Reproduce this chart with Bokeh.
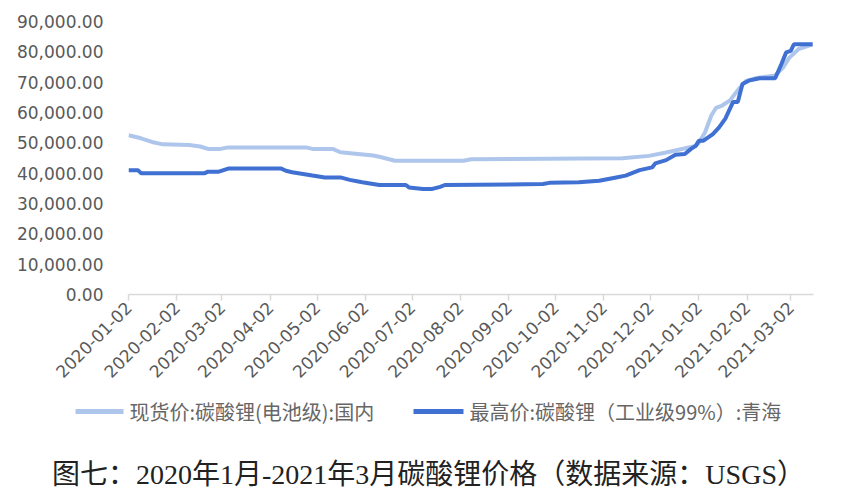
import pandas as pd
from bokeh.plotting import figure
from bokeh.layouts import column
from bokeh.models import (Range1d, FixedTicker, NumeralTickFormatter, DatetimeTickFormatter)
from bokeh.core.properties import value
from bokeh.embed import file_html
from bokeh.resources import INLINE

# ---- data ----
spot_dates = ["2020-01-02", "2020-01-10", "2020-01-17", "2020-01-24", "2020-02-10", "2020-02-17",
              "2020-02-22", "2020-03-01", "2020-03-06", "2020-04-25", "2020-04-29", "2020-05-12",
              "2020-05-17", "2020-06-07", "2020-06-11", "2020-06-21", "2020-08-04", "2020-08-09",
              "2020-11-14", "2020-12-01", "2020-12-12", "2020-12-20", "2020-12-31", "2021-01-02",
              "2021-01-06", "2021-01-10", "2021-01-13", "2021-01-17", "2021-01-22", "2021-01-28",
              "2021-02-01", "2021-02-08", "2021-02-20", "2021-02-25", "2021-03-01", "2021-03-07",
              "2021-03-16"]
spot_values = [52500, 51500, 50300, 49500, 49300, 48800,
               48000, 48000, 48500, 48500, 48000, 48000,
               46900, 45800, 45400, 44100, 44100, 44600,
               44900, 45700, 46800, 47700, 49000, 50000,
               53500, 59000, 61500, 62300, 64000, 68000,
               70300, 71400, 72200, 74800, 78000, 80900,
               82500]

high_dates = ["2020-01-02", "2020-01-08", "2020-01-10", "2020-02-20", "2020-02-22", "2020-02-29",
              "2020-03-06", "2020-04-09", "2020-04-12", "2020-04-16", "2020-04-22", "2020-04-29",
              "2020-05-07", "2020-05-17", "2020-05-23", "2020-05-31", "2020-06-11", "2020-06-28",
              "2020-06-30", "2020-07-09", "2020-07-15", "2020-07-20", "2020-07-23", "2020-09-24",
              "2020-09-28", "2020-10-17", "2020-10-30", "2020-11-10", "2020-11-16", "2020-11-25",
              "2020-12-03", "2020-12-05", "2020-12-12", "2020-12-18", "2020-12-24", "2020-12-28",
              "2020-12-31", "2021-01-02", "2021-01-05", "2021-01-11", "2021-01-15", "2021-01-19",
              "2021-01-24", "2021-01-27", "2021-01-30", "2021-02-03", "2021-02-10", "2021-02-20",
              "2021-02-24", "2021-02-27", "2021-03-02", "2021-03-04", "2021-03-16"]
high_values = [41000, 41000, 40000, 40000, 40500, 40500,
               41500, 41500, 40800, 40300, 39800, 39200,
               38600, 38600, 37800, 37000, 36100, 36100,
               35300, 34800, 34800, 35500, 36100, 36400,
               36800, 37000, 37500, 38600, 39200, 41000,
               41900, 43200, 44300, 46100, 46300, 48000,
               49000, 50700, 50700, 52900, 55100, 58000,
               63500, 63500, 69400, 70500, 71300, 71300,
               76000, 79800, 80300, 82500, 82500]

x_ticks = ["2020-01-02", "2020-02-02", "2020-03-02", "2020-04-02", "2020-05-02", "2020-06-02",
           "2020-07-02", "2020-08-02", "2020-09-02", "2020-10-02", "2020-11-02", "2020-12-02",
           "2021-01-02", "2021-02-02", "2021-03-02"]
y_ticks = [0, 10000, 20000, 30000, 40000, 50000, 60000, 70000, 80000, 90000]

spot_name = "现货价:碳酸锂(电池级):国内"
high_name = "最高价:碳酸锂（工业级99%）:青海"
caption = "图七：2020年1月-2021年3月碳酸锂价格（数据来源：USGS）"

spot_color = "#aec6ec"
high_color = "#3f70d2"

# ---- main chart ----
def ms(s):
    return pd.Timestamp(s).value / 1e6

x_start = pd.Timestamp("2020-01-02")
x_end = pd.Timestamp("2021-03-16 14:00")

p = figure(width=850, height=395, output_backend="svg", toolbar_location=None,
           x_axis_type="datetime",
           x_range=Range1d(x_start, x_end), y_range=Range1d(0, 90000),
           min_border_left=128, min_border_right=37, min_border_top=21, min_border_bottom=101)
p.background_fill_color = "white"
p.border_fill_color = "white"
p.outline_line_color = None
p.xgrid.visible = False
p.ygrid.visible = False

p.line(pd.to_datetime(spot_dates), spot_values, line_color=spot_color, line_width=4)
p.line(pd.to_datetime(high_dates), high_values, line_color=high_color, line_width=4)

# y axis
p.yaxis.ticker = FixedTicker(ticks=y_ticks)
p.yaxis.formatter = NumeralTickFormatter(format="0,0.00")
p.yaxis.axis_line_color = None
p.yaxis.major_tick_line_color = None
p.yaxis.minor_tick_line_color = None
p.yaxis.major_tick_out = 0
p.yaxis.major_tick_in = 0
p.yaxis.major_label_standoff = 25
p.yaxis.major_label_text_font = "DejaVu Sans"
p.yaxis.major_label_text_font_size = "17px"
p.yaxis.major_label_text_color = "#595959"

# x axis
p.xaxis.ticker = FixedTicker(ticks=[ms(t) for t in x_ticks])
fmt = "%Y-%m-%d"
p.xaxis.formatter = DatetimeTickFormatter(microseconds=fmt, milliseconds=fmt, seconds=fmt,
                                          minsec=fmt, minutes=fmt, hourmin=fmt, hours=fmt,
                                          days=fmt, months=fmt, years=fmt)
p.xaxis.major_label_orientation = 0.785398
p.xaxis.axis_line_color = "#d9d9d9"
p.xaxis.axis_line_width = 1.5
p.xaxis.major_tick_line_color = "#d9d9d9"
p.xaxis.major_tick_line_width = 1.5
p.xaxis.major_tick_out = 6
p.xaxis.major_tick_in = 0
p.xaxis.minor_tick_line_color = None
p.xaxis.major_label_standoff = 4
p.xaxis.major_label_text_font = "DejaVu Sans"
p.xaxis.major_label_text_font_size = "17px"
p.xaxis.major_label_text_color = "#595959"

# ---- legend + caption strip (pixel coordinates, y downward) ----
q = figure(width=850, height=105, output_backend="svg", toolbar_location=None,
           x_range=Range1d(0, 850), y_range=Range1d(105, 0),
           min_border_left=0, min_border_right=0, min_border_top=0, min_border_bottom=0)
q.axis.visible = False
q.grid.visible = False
q.outline_line_color = None
q.background_fill_color = "white"
q.border_fill_color = "white"

for fig in (p, q):
    if "frame_align" in fig.properties():
        fig.frame_align = False

q.segment(x0=[75, 413], y0=[16, 16], x1=[123, 463], y1=[16, 16],
          line_color=[spot_color, high_color], line_width=5)
q.text(x=[129, 469], y=[16, 16], text=[spot_name, high_name],
       text_font=value("Noto Sans CJK SC"), text_font_size="20px",
       text_color="#666666", text_baseline="middle", text_align="left")
q.text(x=[428], y=[79], text=[caption],
       text_font=value("Liberation Serif, Noto Sans CJK SC"), text_font_size="28px",
       text_color="#222222", text_baseline="middle", text_align="center")

layout = column(p, q, spacing=0)
open("out.html", "w").write(file_html(layout, INLINE))
